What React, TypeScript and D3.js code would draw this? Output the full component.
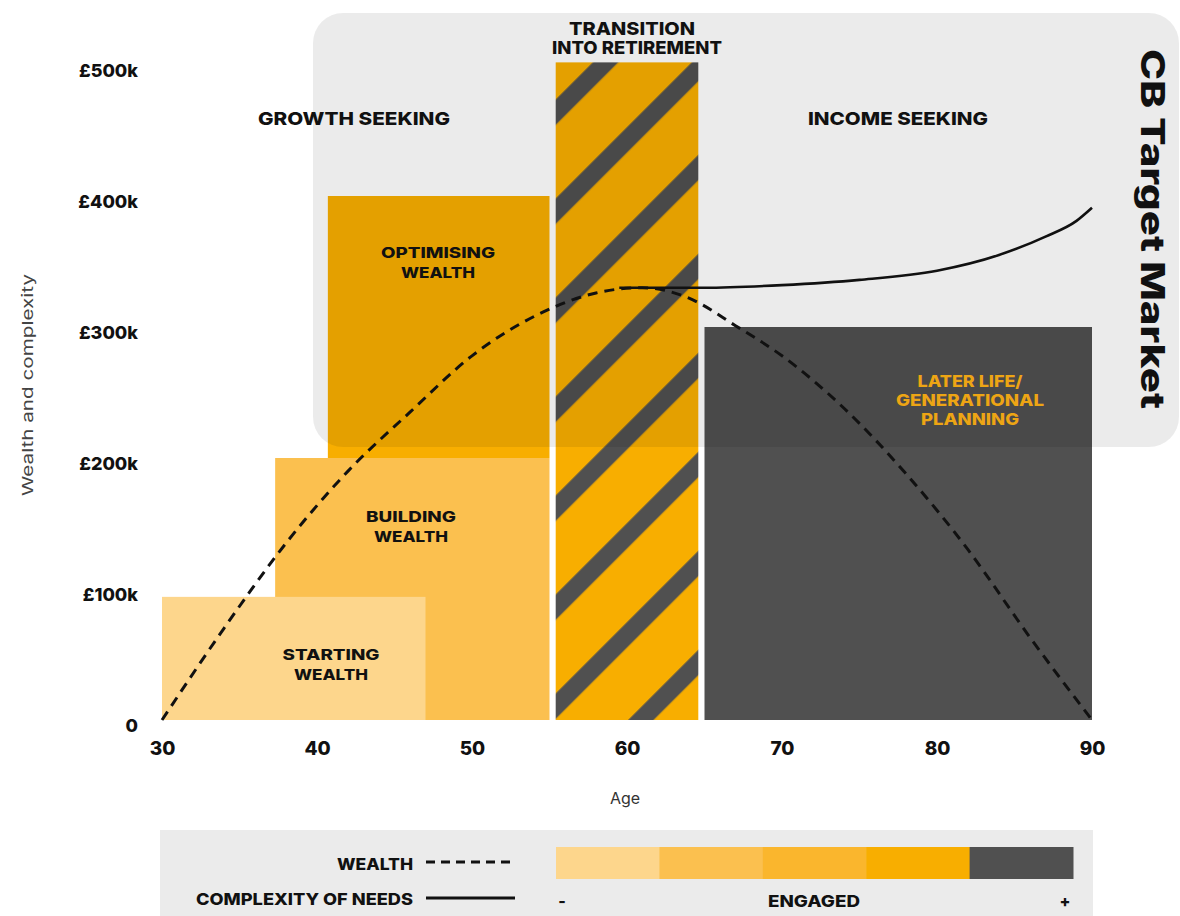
import React, { useEffect, useRef } from "react";
import * as d3 from "d3";

const ageTicks = [30, 40, 50, 60, 70, 80, 90];
const valueTicks = [0, 100, 200, 300, 400, 500];
const valueTickLabels = ["0", "£100k", "£200k", "£300k", "£400k", "£500k"];

// stages (drawn in this order)
const stageNames = ["BUILDING WEALTH", "STARTING WEALTH", "OPTIMISING WEALTH", "TRANSITION INTO RETIREMENT", "LATER LIFE/ GENERATIONAL PLANNING"];
const stageStartAge = [37.3, 30, 40.7, 55.4, 65];
const stageEndAge = [55, 47, 55, 64.6, 90];
const stageLow = [0, 0, 200, 0, 0];
const stageHigh = [200, 94, 400, 502, 300];
const stageColors = ["#FBC04F", "#FDD68C", "#F8AE00", "url(#hatch)", "#505050"];

const wealthAges = [30, 34, 38, 42, 46, 50, 54, 58, 61, 64, 67, 70, 74, 78, 82, 86, 90];
const wealthValues = [0, 70, 135, 190, 235, 278, 308, 326, 330, 322, 301, 278, 238, 188, 130, 63, 0];

const complexityAges = [59.5, 65, 70, 75, 80, 84, 87, 89, 90];
const complexityValues = [330, 330, 332, 336, 343, 355, 369, 381, 391];

const legendNames = ["WEALTH", "COMPLEXITY OF NEEDS"];
const engagedColors = ["#FDD68C", "#FBC04F", "#FAB62D", "#F8AE00", "#505050"];

const F = "Inter, 'DejaVu Sans', sans-serif";

type LP = { x: number; y: number; t: string; s: number; len: number; fill?: string; w?: number };
function Label({ x, y, t, s, len, fill = "#111", w = 800 }: LP) {
  return (
    <text
      x={x}
      y={y}
      textAnchor="middle"
      dominantBaseline="central"
      fontFamily={F}
      fontSize={s}
      fontWeight={w}
      fill={fill}
      textLength={len}
      lengthAdjust="spacingAndGlyphs"
    >
      {t}
    </text>
  );
}

export default function App() {
  const W = 1180;
  const H = 916;
  const x = d3.scaleLinear().domain([30, 90]).range([162, 1092]);
  const y = d3.scaleLinear().domain([0, 500]).range([720, 65]);
  const xAxisRef = useRef<SVGGElement>(null);
  const yAxisRef = useRef<SVGGElement>(null);

  useEffect(() => {
    const gx = d3.select(xAxisRef.current as SVGGElement);
    gx.call(d3.axisBottom(x).tickValues(ageTicks).tickSize(0).tickFormat(d3.format("d")) as any);
    gx.select(".domain").remove();
    gx.selectAll("text")
      .attr("font-family", F)
      .attr("font-weight", 800)
      .attr("font-size", 19)
      .attr("fill", "#111")
      .attr("y", 28)
      .attr("dy", "0.35em");

    const gy = d3.select(yAxisRef.current as SVGGElement);
    gy.call(
      d3
        .axisLeft(y)
        .tickValues(valueTicks)
        .tickSize(0)
        .tickPadding(8)
        .tickFormat((d, i) => valueTickLabels[i]) as any
    );
    gy.select(".domain").remove();
    gy.selectAll("text")
      .attr("font-family", F)
      .attr("font-weight", 800)
      .attr("font-size", 18)
      .attr("fill", "#111")
      .attr("y", 5)
      .attr("dy", "0.35em");
  }, []);

  const wealthLine = d3
    .line<number>()
    .x((_, i) => x(wealthAges[i]))
    .y((d) => y(d))
    .curve(d3.curveMonotoneX);
  const complexityLine = d3
    .line<number>()
    .x((_, i) => x(complexityAges[i]))
    .y((d) => y(d))
    .curve(d3.curveMonotoneX);

  const band = d3.scaleBand<number>().domain(engagedColors.map((_, i) => i)).range([556, 1073]);

  return (
    <svg width={W} height={H} style={{ position: "absolute", left: 0, top: 0, background: "#fff" }}>
      <defs>
        <pattern id="hatch" patternUnits="userSpaceOnUse" width={70} height={70} patternTransform="rotate(45)">
          <rect width={70} height={70} fill="#F8AE00" />
          <rect x={43.3} width={18} height={70} fill="#505050" />
        </pattern>
      </defs>

      {/* stage blocks */}
      {stageNames.map((n, i) => (
        <rect
          key={n}
          x={x(stageStartAge[i])}
          y={y(stageHigh[i])}
          width={x(stageEndAge[i]) - x(stageStartAge[i])}
          height={y(stageLow[i]) - y(stageHigh[i])}
          fill={stageColors[i]}
        />
      ))}

      {/* target market panel */}
      <rect x={313} y={13} width={866} height={434} rx={30} ry={30} fill="#000" opacity={0.08} />

      {/* curves */}
      <path d={wealthLine(wealthValues) || ""} fill="none" stroke="#111" strokeWidth={3} strokeDasharray="10 7" />
      <path d={complexityLine(complexityValues) || ""} fill="none" stroke="#111" strokeWidth={2.6} />

      {/* axes */}
      <g ref={xAxisRef} transform="translate(0,720)" />
      <g ref={yAxisRef} transform="translate(146,0)" />

      {/* region labels */}
      <Label x={354} y={118} t="GROWTH SEEKING" s={18} len={192} />
      <Label x={898} y={118} t="INCOME SEEKING" s={18} len={180} />
      <Label x={632} y={28} t="TRANSITION" s={18} len={126} />
      <Label x={637} y={47} t="INTO RETIREMENT" s={18} len={170} />

      <Label x={438} y={252} t="OPTIMISING" s={15} len={114} />
      <Label x={438} y={272} t="WEALTH" s={15} len={74} />
      <Label x={411} y={516} t="BUILDING" s={15} len={90} />
      <Label x={411} y={536} t="WEALTH" s={15} len={74} />
      <Label x={331} y={654} t="STARTING" s={15} len={97} />
      <Label x={331} y={674} t="WEALTH" s={15} len={74} />

      <Label x={970} y={381} t="LATER LIFE/" s={16} len={105} fill="#EDA514" />
      <Label x={970} y={400} t="GENERATIONAL" s={16} len={148} fill="#EDA514" />
      <Label x={970} y={419} t="PLANNING" s={16} len={98} fill="#EDA514" />

      <text
        transform="translate(1153,229) rotate(90)"
        textAnchor="middle"
        dominantBaseline="central"
        fontFamily={F}
        fontSize={33}
        fontWeight={800}
        fill="#111"
        textLength={360}
        lengthAdjust="spacingAndGlyphs"
      >
        CB Target Market
      </text>

      {/* axis titles */}
      <text x={625} y={798} textAnchor="middle" dominantBaseline="central" fontFamily={F} fontSize={16} fill="#333">
        Age
      </text>
      <text
        transform="translate(27,385) rotate(-90)"
        textAnchor="middle"
        dominantBaseline="central"
        fontFamily={F}
        fontSize={15}
        fill="#444"
        textLength={222}
        lengthAdjust="spacingAndGlyphs"
      >
        Wealth and complexity
      </text>

      {/* legend */}
      <rect x={160} y={830} width={933} height={90} fill="#EBEBEB" />
      <text x={413} y={864} textAnchor="end" dominantBaseline="central" fontFamily={F} fontSize={16} fontWeight={800} fill="#111" textLength={76} lengthAdjust="spacingAndGlyphs">
        {legendNames[0]}
      </text>
      <line x1={426} x2={515} y1={862} y2={862} stroke="#111" strokeWidth={3} strokeDasharray="9 6" />
      <text x={413} y={899} textAnchor="end" dominantBaseline="central" fontFamily={F} fontSize={16} fontWeight={800} fill="#111" textLength={217} lengthAdjust="spacingAndGlyphs">
        {legendNames[1]}
      </text>
      <line x1={426} x2={515} y1={898} y2={898} stroke="#111" strokeWidth={3} />

      {engagedColors.map((c, i) => (
        <rect key={i} x={band(i)} y={847} width={band.bandwidth() + 0.5} height={32} fill={c} />
      ))}
      <text x={562} y={901} textAnchor="middle" dominantBaseline="central" fontFamily={F} fontSize={16} fontWeight={800} fill="#111">
        -
      </text>
      <text x={814} y={901} textAnchor="middle" dominantBaseline="central" fontFamily={F} fontSize={16} fontWeight={800} fill="#111" textLength={92} lengthAdjust="spacingAndGlyphs">
        ENGAGED
      </text>
      <text x={1065} y={901} textAnchor="middle" dominantBaseline="central" fontFamily={F} fontSize={16} fontWeight={800} fill="#111">
        +
      </text>
    </svg>
  );
}
